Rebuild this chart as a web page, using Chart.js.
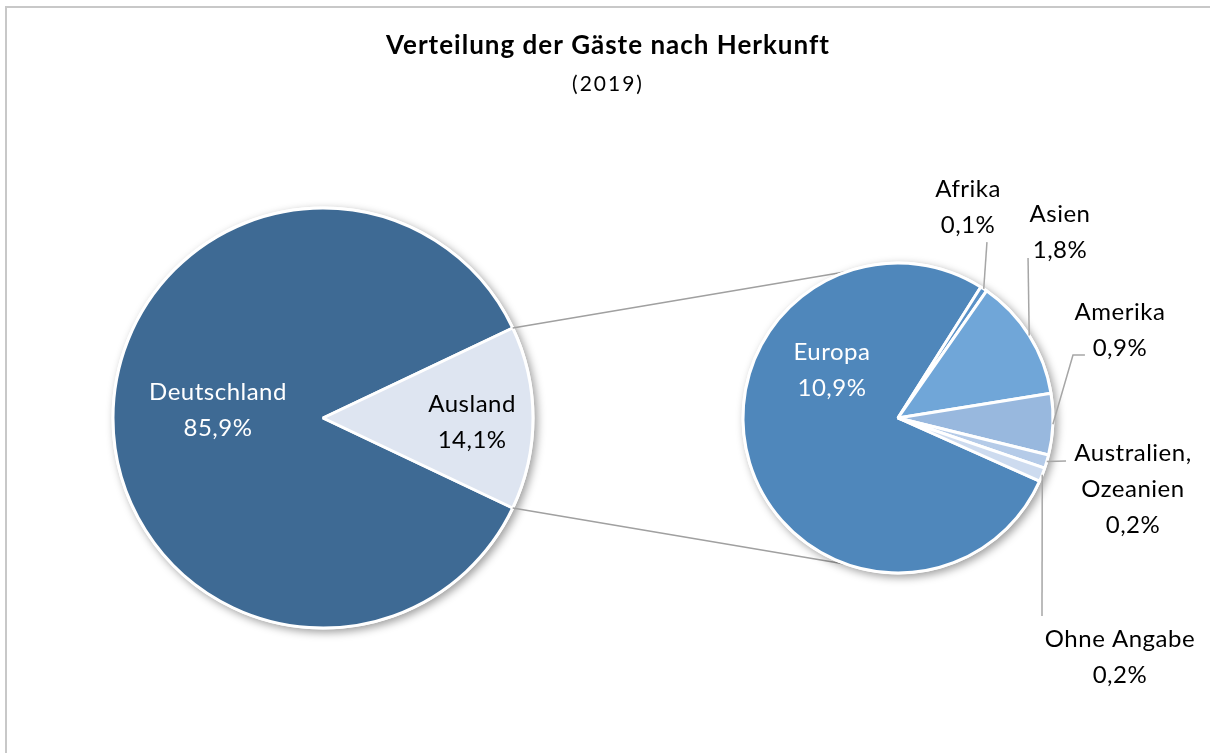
<!DOCTYPE html>
<html>
<head>
<meta charset="utf-8">
<script src="https://cdn.jsdelivr.net/npm/chart.js@4/dist/chart.umd.min.js"></script>
<style>
  html, body { margin: 0; padding: 0; background: #fff; }
  #wrap { position: relative; width: 1210px; height: 753px; overflow: hidden; }
  #frame { position: absolute; left: 5px; top: 6px; width: 1400px; height: 900px; border: 2px solid #c8c8c8; box-sizing: border-box; }
  #wrap canvas { position: absolute; left: 0; top: 0; }
</style>
</head>
<body>
<div id="wrap">
  <div id="frame"></div>
  <canvas id="main" width="1210" height="753"></canvas>
  <canvas id="detail" width="1210" height="753"></canvas>
</div>
<script>
// Gäste nach Herkunft 2019, Anteile in %
const mainLabels = [['Deutschland'], ['Ausland']];
const mainValues = [85.9, 14.1];
const detailLabels = [['Europa'], ['Afrika'], ['Asien'], ['Amerika'], ['Australien,', 'Ozeanien'], ['Ohne Angabe']];
const detailValues = [10.9, 0.1, 1.8, 0.9, 0.2, 0.2];

const mainColors = ['#3e6a94', '#dee5f1'];
const detailColors = ['#4f87bb', '#5a92c8', '#70a6d8', '#98b8de', '#b5cbe8', '#cddbef'];

const FONT = 'Lato, "Open Sans", sans-serif';
const BORDER = 3;

const fmt = v => v.toLocaleString('de-DE', { minimumFractionDigits: 1, maximumFractionDigits: 1 }) + '%';

// label anchors, offset from pie centre in radii
const mainLabelPos = [[-0.5, -0.035], [0.71, 0.02]];
const detailLabelPos = [[-0.426, -0.31], [0.452, -1.361], [1.045, -1.2], [1.432, -0.568], [1.516, 0.458], [1.432, 1.542]];
// leader line bends for the outside labels (null = label sits inside the slice)
const detailLeaders = [null, [[0.574, -1.135]], [[0.839, -1.032]], [[1.129, -0.406], [1.206, -0.406]], [[1.084, 0.277]], [[0.929, 1.277]]];

function drawShadow(chart) {
  const arc = chart.getDatasetMeta(0).data[0];
  if (!arc) return;
  const ctx = chart.ctx;
  ctx.save();
  ctx.shadowColor = 'rgba(0,0,0,0.38)';
  ctx.shadowBlur = 8;
  ctx.shadowOffsetX = 3;
  ctx.shadowOffsetY = 3;
  ctx.fillStyle = '#fff';
  ctx.beginPath();
  ctx.arc(arc.x, arc.y, arc.outerRadius + BORDER / 2, 0, Math.PI * 2);
  ctx.fill();
  ctx.restore();
}

function drawLabels(chart, labels, values, positions, colors, leaders) {
  const ctx = chart.ctx;
  const arcs = chart.getDatasetMeta(0).data;
  ctx.save();
  ctx.font = '24px ' + FONT;
  ctx.letterSpacing = '0.5px';
  ctx.textAlign = 'center';
  ctx.textBaseline = 'middle';
  const lh = 36;
  arcs.forEach((arc, i) => {
    const r = arc.outerRadius;
    const lines = labels[i].concat([fmt(values[i])]);
    const cx = arc.x + positions[i][0] * r;
    const cy = arc.y + positions[i][1] * r;
    if (leaders && leaders[i]) {
      const mid = (arc.startAngle + arc.endAngle) / 2;
      ctx.strokeStyle = '#a6a6a6';
      ctx.lineWidth = 1.5;
      ctx.beginPath();
      ctx.moveTo(arc.x + Math.cos(mid) * r, arc.y + Math.sin(mid) * r);
      leaders[i].forEach(p => ctx.lineTo(arc.x + p[0] * r, arc.y + p[1] * r));
      ctx.stroke();
    }
    ctx.fillStyle = colors[i];
    lines.forEach((t, k) => ctx.fillText(t, cx, cy + (k - (lines.length - 1) / 2) * lh));
  });
  ctx.restore();
}

const titlePlugin = {
  id: 'titleBlock',
  afterDraw(chart) {
    const ctx = chart.ctx;
    ctx.save();
    ctx.textAlign = 'center';
    ctx.textBaseline = 'middle';
    ctx.fillStyle = '#000';
    ctx.font = 'bold 26px ' + FONT;
    ctx.letterSpacing = '1px';
    ctx.fillText('Verteilung der Gäste nach Herkunft', 608, 46);
    ctx.font = '21px ' + FONT;
    ctx.letterSpacing = '2px';
    ctx.fillText('(2019)', 608, 84);
    ctx.restore();
  }
};

const mainPlugin = {
  id: 'mainPie',
  beforeDatasetsDraw(chart) { drawShadow(chart); },
  afterDatasetsDraw(chart) {
    drawLabels(chart, mainLabels, mainValues, mainLabelPos, ['#fff', '#000'], null);
  }
};

const baseOptions = {
  responsive: false,
  animation: false,
  events: [],
  plugins: { legend: { display: false }, tooltip: { enabled: false } }
};

// main pie: centre (323, 418), radius 210
const mainChart = new Chart(document.getElementById('main'), {
  type: 'pie',
  data: {
    labels: mainLabels.map(l => l.join(' ')),
    datasets: [{
      data: mainValues,
      backgroundColor: mainColors,
      borderColor: '#fff',
      borderWidth: BORDER
    }]
  },
  options: {
    ...baseOptions,
    // Ausland centred on the right-hand side
    rotation: 90 + mainValues[1] / mainValues.reduce((a, b) => a + b, 0) * 180,
    layout: { padding: { left: 323 - 211.5, right: 1210 - 323 - 211.5, top: 418 - 211.5, bottom: 753 - 418 - 211.5 } }
  },
  plugins: [mainPlugin, titlePlugin]
});

const detailPlugin = {
  id: 'detailPie',
  beforeDatasetsDraw(chart) {
    // connector lines from the Ausland slice to the top and bottom of the detail pie
    const src = mainChart.getDatasetMeta(0).data[1];
    const dst = chart.getDatasetMeta(0).data[0];
    const ctx = chart.ctx;
    const R = src.outerRadius;
    ctx.save();
    ctx.strokeStyle = '#a0a0a0';
    ctx.lineWidth = 1.5;
    ctx.beginPath();
    ctx.moveTo(src.x + Math.cos(src.startAngle) * R, src.y + Math.sin(src.startAngle) * R);
    ctx.lineTo(dst.x, dst.y - dst.outerRadius);
    ctx.moveTo(src.x + Math.cos(src.endAngle) * R, src.y + Math.sin(src.endAngle) * R);
    ctx.lineTo(dst.x, dst.y + dst.outerRadius);
    ctx.stroke();
    ctx.restore();
    drawShadow(chart);
  },
  afterDatasetsDraw(chart) {
    drawLabels(chart, detailLabels, detailValues, detailLabelPos, ['#fff', '#000', '#000', '#000', '#000', '#000'], detailLeaders);
  }
};

// detail pie: centre (898, 418), radius 155
new Chart(document.getElementById('detail'), {
  type: 'pie',
  data: {
    labels: detailLabels.map(l => l.join(' ')),
    datasets: [{
      data: detailValues,
      backgroundColor: detailColors,
      borderColor: '#fff',
      borderWidth: BORDER
    }]
  },
  options: {
    ...baseOptions,
    rotation: 114,
    layout: { padding: { left: 898 - 156.5, right: 1210 - 898 - 156.5, top: 418 - 156.5, bottom: 753 - 418 - 156.5 } }
  },
  plugins: [detailPlugin]
});
</script>
</body>
</html>
